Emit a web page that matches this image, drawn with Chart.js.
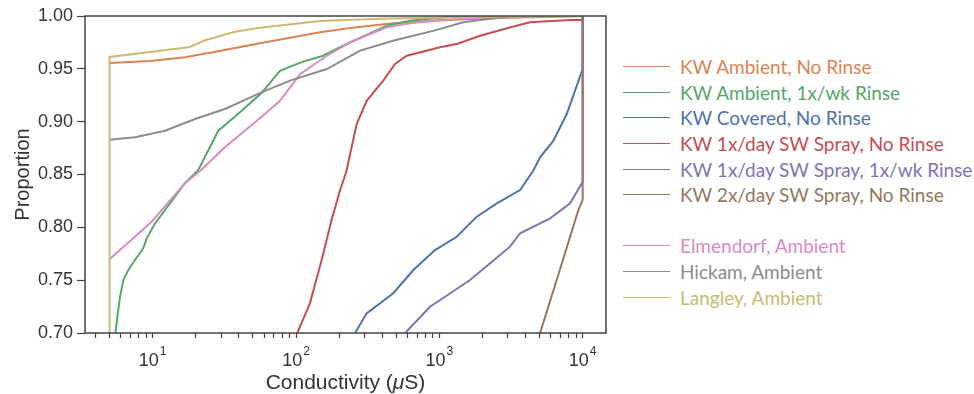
<!DOCTYPE html>
<html>
<head>
<meta charset="utf-8">
<script src="https://cdn.jsdelivr.net/npm/chart.js@4.4.1/dist/chart.umd.min.js"></script>
<style>
    html, body { margin: 0; padding: 0; background: #fff; }
    #wrap { position: relative; width: 974px; height: 394px; overflow: hidden; }
    #cdf-chart { position: absolute; left: 0; top: 0; }
    #legend { position: absolute; left: 623px; top: 54px; font-family: Lato, 'Open Sans', sans-serif; font-size: 19px; }
    .legend-row { height: 25.6px; display: flex; align-items: center; white-space: nowrap; }
    .legend-line { width: 47px; height: 0; border-top: 1.6px solid; margin-right: 10px; }
</style>
</head>
<body>
<div id="wrap">
    <canvas id="cdf-chart" width="620" height="394"></canvas>
    <div id="legend"></div>
</div>
<script>
// Conductivity range shown on the log axis (µS)
const xMin = 3.37;
const xMax = 14550;
const decadeLabels = [10, 100, 1000, 10000];

// Cumulative proportion vs conductivity, [µS, proportion]
const kwAmbientNoRinse = [[5, 0.9555], [9.6, 0.9574], [16.8, 0.9609], [28.6, 0.9666], [56, 0.9742], [147, 0.9846], [238, 0.9886], [475, 0.9931], [1010, 0.9957], [1925, 0.9976], [5060, 0.999], [10000, 1.0]];
const kwAmbientRinse = [[5.3, 0.64], [5.52, 0.7028], [5.75, 0.7218], [5.92, 0.7344], [6.24, 0.7502], [6.76, 0.7596], [7.52, 0.7691], [8.59, 0.7802], [9.08, 0.7896], [10.4, 0.8038], [12.2, 0.8164], [14.3, 0.829], [16.8, 0.8417], [20.8, 0.8543], [28.7, 0.8914], [41.8, 0.9104], [57.9, 0.9276], [77.3, 0.9482], [107, 0.9559], [154, 0.9624], [226, 0.9735], [430, 0.9908], [625, 0.9955], [1190, 0.9993], [10000, 1.0]];
const kwCovered = [[240, 0.68], [258, 0.70], [311, 0.7186], [477, 0.7376], [659, 0.7596], [933, 0.7785], [1322, 0.7911], [1824, 0.8101], [2516, 0.8227], [3660, 0.8353], [4530, 0.8538], [5045, 0.8663], [6250, 0.882], [7745, 0.9072], [10000, 0.9498], [10000, 1.0]];
const kwSprayNoRinse = [[92, 0.67], [102, 0.70], [125, 0.7281], [151, 0.7691], [177, 0.8069], [203, 0.8353], [224, 0.8524], [265, 0.8978], [311, 0.9198], [406, 0.9388], [491, 0.9546], [592, 0.9624], [1010, 0.9704], [1322, 0.9735], [1925, 0.9813], [3285, 0.99], [4295, 0.994], [8170, 0.9962], [10000, 0.9962], [10000, 1.0]];
const kwSprayRinse = [[520, 0.68], [577, 0.70], [861, 0.7249], [1193, 0.7376], [1637, 0.7502], [2262, 0.766], [3110, 0.7817], [3660, 0.7944], [5045, 0.8038], [5930, 0.8085], [8170, 0.8227], [10000, 0.8432], [10000, 1.0]];
const kwSpray2xNoRinse = [[4800, 0.68], [5045, 0.70], [6590, 0.7502], [8170, 0.7911], [9330, 0.8164], [10000, 0.826], [10000, 1.0]];
const elmendorf = [[5, 0.7697], [9.84, 0.8053], [16.8, 0.8417], [21.4, 0.8533], [31.9, 0.8757], [57.9, 0.9049], [77.3, 0.9198], [107, 0.9451], [164, 0.9624], [251, 0.9766], [430, 0.9893], [625, 0.9931], [1010, 0.9962], [2262, 0.999], [10000, 1.0]];
const hickam = [[5, 0.8829], [7.52, 0.8852], [12.2, 0.8914], [19.7, 0.9025], [31.9, 0.912], [57.9, 0.928], [90.8, 0.9388], [164, 0.9498], [280, 0.9672], [475, 0.9766], [933, 0.9864], [1466, 0.994], [2262, 0.9974], [3380, 0.9997], [10000, 1.0]];
const langley = [[5, 0.6], [5, 0.9612], [9.58, 0.966], [18.2, 0.9707], [23.2, 0.977], [37.5, 0.985], [54.3, 0.9886], [147, 0.9953], [385, 0.9974], [2660, 0.9995], [10000, 1.0]];

const seriesNames = [
    'KW Ambient, No Rinse',
    'KW Ambient, 1x/wk Rinse',
    'KW Covered, No Rinse',
    'KW 1x/day SW Spray, No Rinse',
    'KW 1x/day SW Spray, 1x/wk Rinse',
    'KW 2x/day SW Spray, No Rinse',
    'Elmendorf, Ambient',
    'Hickam, Ambient',
    'Langley, Ambient'
];
const seriesData = [kwAmbientNoRinse, kwAmbientRinse, kwCovered, kwSprayNoRinse, kwSprayRinse, kwSpray2xNoRinse, elmendorf, hickam, langley];
const seriesColors = ['#DD8452', '#55A868', '#4C72B0', '#C44E52', '#8172B3', '#937860', '#DA8BC3', '#8C8C8C', '#CCB974'];

const axisFont = "'Liberation Sans', Arial, sans-serif";

// Later series sit on top (Chart.js draws low 'order' last)
const datasets = seriesData.map((pts, i) => ({
    label: seriesNames[i],
    data: pts.map(p => ({ x: p[0], y: p[1] })),
    borderColor: seriesColors[i],
    backgroundColor: seriesColors[i],
    borderWidth: 2,
    pointRadius: 0,
    tension: 0,
    fill: false,
    order: seriesData.length - i
}));

// Box round the plot, 10^n tick labels and the x axis title
const framePlugin = {
    id: 'frame',
    afterDatasetsDraw(chart) {
        const { ctx, chartArea: a } = chart;
        ctx.save();
        ctx.strokeStyle = '#444';
        ctx.lineWidth = 1.5;
        ctx.strokeRect(a.left, a.top, a.right - a.left, a.bottom - a.top);
        ctx.restore();
    },
    afterDraw(chart) {
        const { ctx, chartArea: a } = chart;
        const xScale = chart.scales.x;
        ctx.save();
        ctx.fillStyle = '#333';
        ctx.textBaseline = 'alphabetic';
        decadeLabels.forEach(v => {
            const px = xScale.getPixelForValue(v);
            const exp = String(Math.round(Math.log10(v)));
            ctx.font = '18px ' + axisFont;
            const wBase = ctx.measureText('10').width;
            ctx.font = '12px ' + axisFont;
            const wExp = ctx.measureText(exp).width;
            const start = px - (wBase + wExp + 1) / 2;
            ctx.font = '18px ' + axisFont;
            ctx.fillText('10', start, 366);
            ctx.font = '12px ' + axisFont;
            ctx.fillText(exp, start + wBase + 1, 355);
        });

        // "Conductivity (µS)" with an italic mu
        const parts = [['Conductivity (', ''], ['\u03bc', 'italic '], ['S)', '']];
        let total = 0;
        parts.forEach(p => { ctx.font = p[1] + '21px ' + axisFont; total += ctx.measureText(p[0]).width; });
        let cx = (a.left + a.right) / 2 - total / 2;
        parts.forEach(p => {
            ctx.font = p[1] + '21px ' + axisFont;
            ctx.fillText(p[0], cx, 389);
            cx += ctx.measureText(p[0]).width;
        });
        ctx.restore();
    }
};

function isDecadeMultiple(v) {
    const m = v / Math.pow(10, Math.floor(Math.log10(v) + 1e-9));
    return Math.abs(m - Math.round(m)) < 1e-6;
}

function initConductivityChart() {
    const ctx = document.getElementById('cdf-chart');
    new Chart(ctx, {
        type: 'line',
        data: { datasets: datasets },
        options: {
            responsive: false,
            animation: false,
            layout: { padding: { top: 16, right: 14, left: 0, bottom: 0 } },
            plugins: {
                legend: { display: false },
                tooltip: { enabled: false }
            },
            scales: {
                x: {
                    type: 'logarithmic',
                    min: xMin,
                    max: xMax,
                    afterFit: s => { s.height = 61; },
                    afterBuildTicks: s => { s.ticks = s.ticks.filter(t => isDecadeMultiple(t.value)); },
                    border: { display: false },
                    grid: { drawOnChartArea: false, tickLength: 5, color: '#444', tickWidth: 1.2 },
                    ticks: { autoSkip: false, maxRotation: 0, callback: () => '' }
                },
                y: {
                    min: 0.70,
                    max: 1.00,
                    afterFit: s => { s.width = 85; },
                    border: { display: false },
                    grid: { drawOnChartArea: false, tickLength: 8, color: '#444', tickWidth: 1.2 },
                    ticks: {
                        stepSize: 0.05,
                        padding: 4,
                        color: '#333',
                        font: { family: axisFont, size: 18 },
                        callback: v => v.toFixed(2)
                    },
                    title: {
                        display: true,
                        text: 'Proportion',
                        color: '#333',
                        font: { family: axisFont, size: 20 },
                        padding: { top: 11, bottom: 0 }
                    }
                }
            }
        },
        plugins: [framePlugin]
    });
}

// Legend with a blank row between the KW runs and the other sites
function buildLegend() {
    const legend = document.getElementById('legend');
    const rows = [];
    seriesNames.forEach((name, i) => {
        if (i === 6) rows.push('<div class="legend-row"></div>');
        rows.push(`
            <div class="legend-row" style="color:${seriesColors[i]}">
                <div class="legend-line" style="border-color:${seriesColors[i]}"></div>
                <span>${name}</span>
            </div>`);
    });
    legend.innerHTML = rows.join('');
}

document.addEventListener('DOMContentLoaded', () => {
    buildLegend();
    initConductivityChart();
});
</script>
</body>
</html>
